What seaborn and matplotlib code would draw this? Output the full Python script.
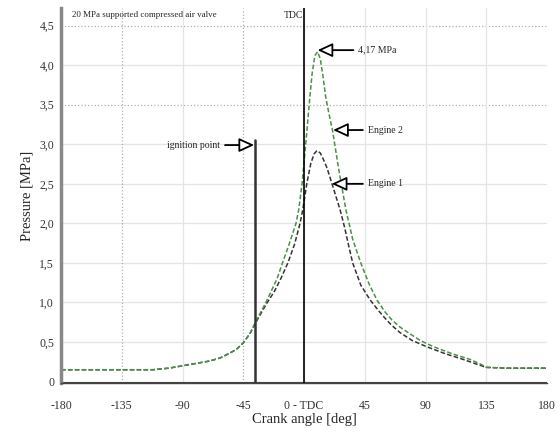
import numpy as np
import pandas as pd
import matplotlib
matplotlib.use("Agg")
import matplotlib.pyplot as plt
import seaborn as sns

# ---- data ----
angle_e1 = [-180, -150, -112, -100, -90, -80, -70, -62, -55, -50, -45, -40, -36, -32, -28, -22, -17, -12, -7, -3, -1, 2, 5, 7.5, 9.6,
            12, 14, 17, 20.7, 26.7, 30, 33, 36, 42, 49, 55, 60, 65, 71, 80, 91, 105, 118, 128, 135, 150, 180]
press_e1 = [0.15, 0.15, 0.15, 0.17, 0.20, 0.23, 0.26, 0.30, 0.36, 0.41, 0.49, 0.61, 0.74, 0.86, 0.98, 1.14, 1.31, 1.50, 1.74, 2.00, 2.17, 2.50, 2.76, 2.88, 2.92,
            2.89, 2.82, 2.70, 2.50, 2.17, 1.95, 1.72, 1.50, 1.22, 1.03, 0.90, 0.80, 0.71, 0.62, 0.52, 0.44, 0.35, 0.28, 0.22, 0.18, 0.17, 0.17]

angle_e2 = [-180, -150, -112, -100, -90, -80, -70, -62, -55, -50, -45, -40, -36, -32, -28, -25, -20, -16, -11, -6, -4, -1.5, 0, 2, 3.7, 6, 8, 10,
            12, 14, 16, 18.5, 21, 26, 31, 36, 42, 48, 54, 60, 65, 71, 77, 86, 96, 110, 123, 132, 135, 150, 180]
press_e2 = [0.15, 0.15, 0.15, 0.17, 0.20, 0.23, 0.26, 0.30, 0.36, 0.41, 0.49, 0.61, 0.75, 0.88, 1.01, 1.12, 1.30, 1.50, 1.74, 2.00, 2.17, 2.50, 2.78, 3.15, 3.49, 3.90, 4.12, 4.17,
            4.08, 3.86, 3.60, 3.38, 3.18, 2.65, 2.17, 1.80, 1.50, 1.24, 1.03, 0.88, 0.78, 0.69, 0.62, 0.52, 0.44, 0.35, 0.28, 0.21, 0.18, 0.17, 0.17]

x_ticks = [-180, -135, -90, -45, 0, 45, 90, 135, 180]
x_labels = ["-180", "-135", "-90", "-45", "0 - TDC", "45", "90", "135", "180"]
y_ticks = [0, 0.5, 1.0, 1.5, 2.0, 2.5, 3.0, 3.5, 4.0, 4.5]
y_labels = ["0", "0,5", "1,0", "1,5", "2,0", "2,5", "3,0", "3,5", "4,0", "4,5"]

ignition_angle = -36
ignition_top = 3.05
peak_angle = 10
peak_value = 4.17

df = pd.concat([
    pd.DataFrame({"angle": angle_e1, "pressure": press_e1, "engine": "Engine 1"}),
    pd.DataFrame({"angle": angle_e2, "pressure": press_e2, "engine": "Engine 2"}),
])

sns.set_style("white")
plt.rcParams["font.family"] = ["Liberation Serif", "DejaVu Serif"]

fig = plt.figure(figsize=(5.6, 4.32), dpi=100)
ax = fig.add_axes([0.109, 0.113, 0.868, 0.868])

# grid
for yv in y_ticks[1:]:
    ls = ":" if yv in (3.5, 4.5) else "-"
    col = "#b0b0b0" if ls == ":" else "#e4e4e4"
    ax.axhline(yv, color=col, lw=0.9, ls=ls, zorder=0)
for xv in x_ticks[1:-1]:
    ls = ":" if xv in (-135, -45) else "-"
    col = "#b0b0b0" if ls == ":" else "#e4e4e4"
    ax.axvline(xv, color=col, lw=0.9, ls=ls, zorder=0)

sns.lineplot(data=df, x="angle", y="pressure", hue="engine",
             palette={"Engine 1": "#333333", "Engine 2": "#4a8f4a"},
             ax=ax, legend=False, lw=1.1, sort=False)
for line in ax.get_lines()[-2:]:
    line.set_dashes([3, 1.5])

# TDC and ignition lines
ax.axvline(0, color="black", lw=1.2, zorder=3)
ax.plot([ignition_angle, ignition_angle], [0, ignition_top], color="#333333", lw=1.8, zorder=3)

ax.set_xlim(-180, 180)
ax.set_ylim(-0.02, 4.72)
ax.set_xticks(x_ticks)
ax.set_xticklabels(x_labels, fontsize=8.5)
ax.set_yticks(y_ticks)
ax.set_yticklabels(y_labels, fontsize=8.5)
ax.tick_params(axis="x", direction="out", length=4, width=0.8, colors="#333333", pad=8)
ax.tick_params(axis="y", direction="out", length=3, width=0.8, colors="#333333", pad=2)

for s in ["top", "right"]:
    ax.spines[s].set_visible(False)
ax.spines["left"].set_color("#888888")
ax.spines["left"].set_linewidth(2.5)
ax.spines["bottom"].set_color("#444444")
ax.spines["bottom"].set_linewidth(1.0)
ax.axhline(0.0, color="#444444", lw=0.8, zorder=1)

ax.set_xlabel("Crank angle [deg]", fontsize=10.5, labelpad=1)
ax.set_ylabel("Pressure [MPa]", fontsize=10.5, labelpad=4)

ax.text(-172, 4.63, "20 MPa supported compressed air valve", fontsize=6.5, va="center", ha="left")
ax.text(-1, 4.63, "TDC", fontsize=7, va="center", ha="right")

arrow = dict(arrowstyle="-|>,head_length=1.3,head_width=0.6", fc="white", ec="black", lw=1.3,
             shrinkA=1, shrinkB=0)
ax.annotate("4,17 MPa", xy=(peak_angle, 4.19), xytext=(40, 4.19), fontsize=7, va="center", ha="left",
            arrowprops=arrow)
ax.annotate("Engine 2", xy=(21.5, 3.18), xytext=(47, 3.18), fontsize=7, va="center", ha="left",
            arrowprops=arrow)
ax.annotate("Engine 1", xy=(20.5, 2.5), xytext=(47, 2.5), fontsize=7, va="center", ha="left",
            arrowprops=arrow)
ax.annotate("ignition point", xy=(ignition_angle - 1, 2.99), xytext=(-62, 2.99), fontsize=7,
            va="center", ha="right", arrowprops=arrow)

fig.savefig("out.png", dpi=100)
